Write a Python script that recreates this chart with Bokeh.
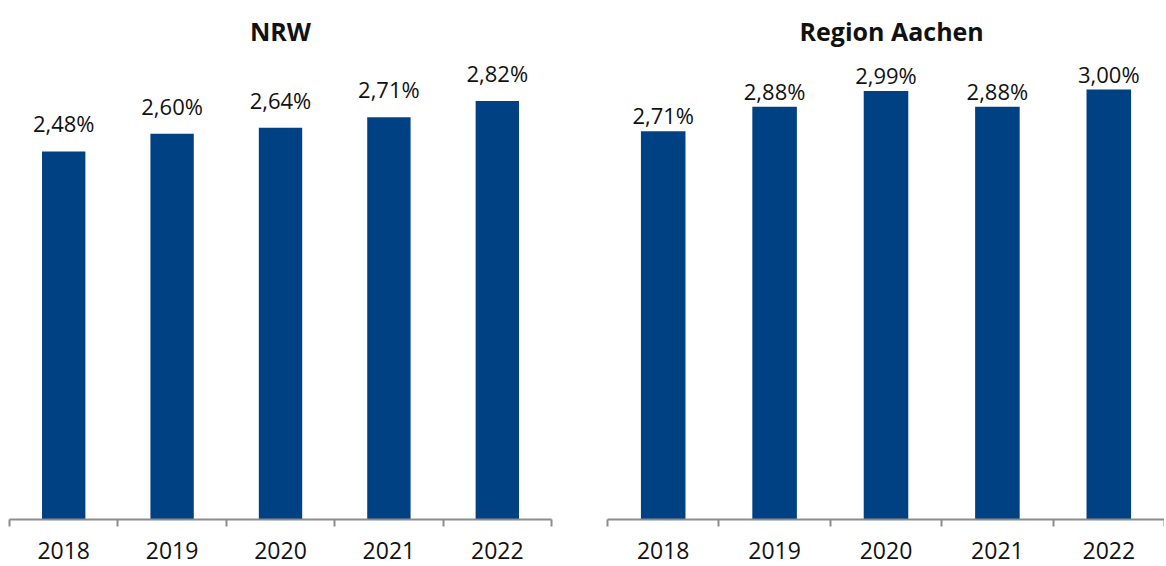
from bokeh.plotting import figure
from bokeh.layouts import row
from bokeh.models import (FactorRange, Range1d, LinearAxis, FixedTicker,
                          Title, ColumnDataSource)
from bokeh.core.properties import value
from bokeh.embed import file_html
from bokeh.resources import INLINE

years = ["2018", "2019", "2020", "2021", "2022"]
nrw_values = [2.48, 2.60, 2.64, 2.71, 2.82]
aachen_values = [2.71, 2.88, 2.99, 2.88, 3.00]
titles = ["NRW", "Region Aachen"]

BAR = "#004183"
GREY = "#8C8C8C"
FONT = "Open Sans"
FRAME_H = 461


def fmt(v):
    return f"{v:.2f}".replace(".", ",") + "%"


def panel(title, vals, yend, frame_w, border_left, border_right, label_off,
          title_align, title_off):
    p = figure(x_range=FactorRange(*years), y_range=Range1d(0, yend),
               x_axis_location=None, y_axis_location=None,
               frame_width=frame_w, frame_height=FRAME_H,
               min_border_left=border_left, min_border_right=border_right,
               min_border_top=57, min_border_bottom=20,
               output_backend="svg", toolbar_location=None)
    p.outline_line_color = None
    p.grid.visible = False

    p.add_layout(Title(text=title, align=title_align, offset=title_off,
                       text_font=FONT, text_font_size="25px",
                       text_font_style="bold", text_color="#111111",
                       standoff=22), "above")

    # year labels at category centres, tick marks at category boundaries
    n = len(years)
    xaxis = LinearAxis(
        ticker=FixedTicker(ticks=[i + 0.5 for i in range(n)],
                           minor_ticks=list(range(n + 1))),
        major_label_overrides={i + 0.5: y for i, y in enumerate(years)},
        major_tick_in=0, major_tick_out=0, major_tick_line_color=None,
        minor_tick_in=0, minor_tick_out=7,
        minor_tick_line_color=GREY, minor_tick_line_width=2,
        axis_line_color=GREY, axis_line_width=2,
        major_label_text_font=FONT, major_label_text_font_size="23px",
        major_label_text_color="#111111", major_label_standoff=15)
    p.add_layout(xaxis, "below")

    src = ColumnDataSource(dict(x=years, top=vals, lab=[fmt(v) for v in vals]))
    p.vbar(x="x", top="top", width=0.4, source=src, fill_color=BAR,
           line_color=None)
    p.text(x="x", y="top", text="lab", source=src, text_align="center",
           text_baseline="alphabetic", y_offset=label_off,
           text_font=value(FONT), text_font_size="22px", text_color="#111111")
    return p


p1 = panel(titles[0], nrw_values, FRAME_H / 148.4, 542, 9, 53, -28,
           "center", 0)
p2 = panel(titles[1], aachen_values, FRAME_H / 143.3, 557, 3, 0, -16,
           "left", 192)
layout = row(p1, p2, spacing=0)

open("out.html", "w").write(file_html(layout, INLINE))
